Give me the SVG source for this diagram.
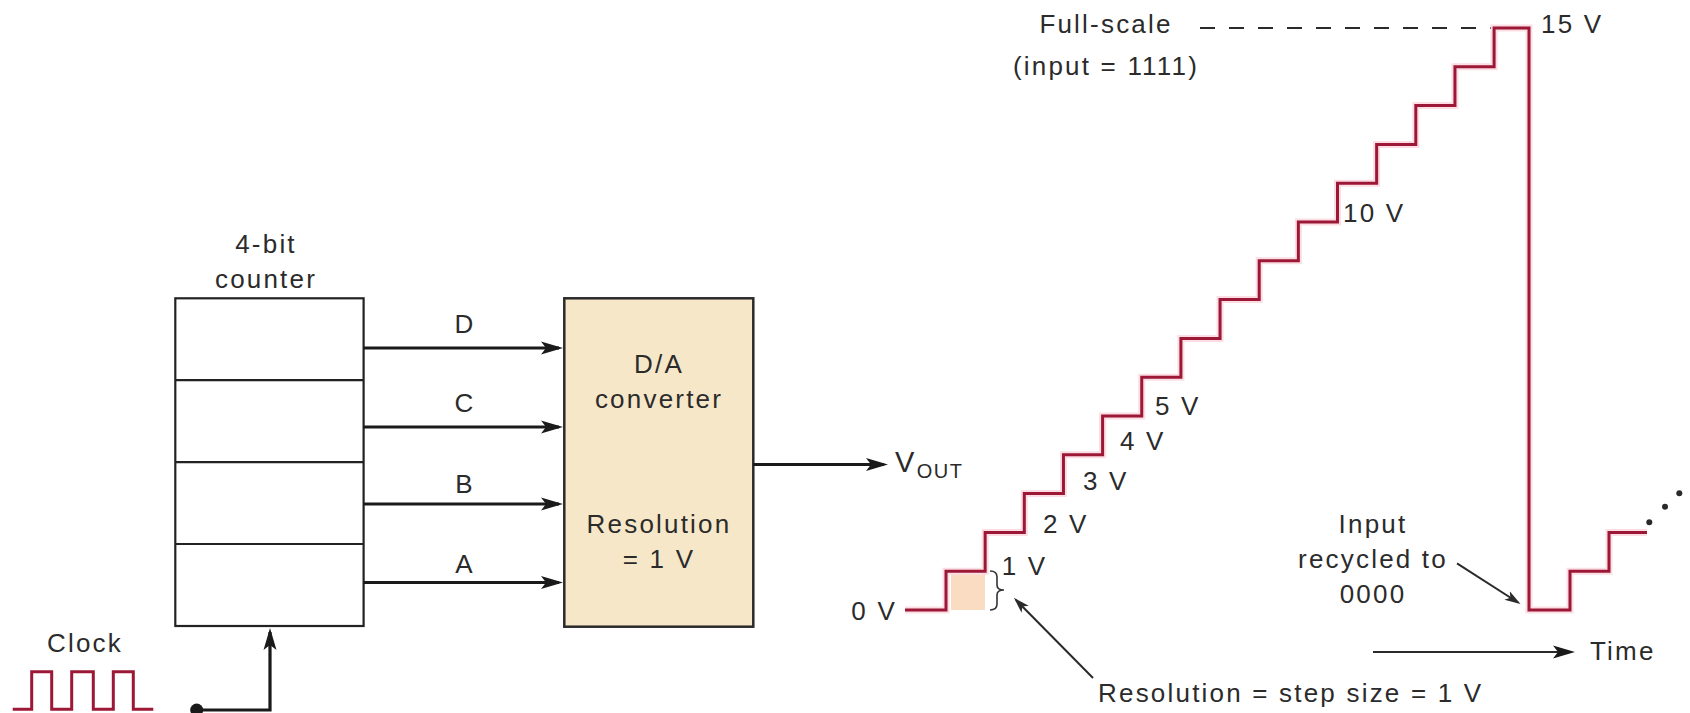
<svg xmlns="http://www.w3.org/2000/svg" width="1690" height="713" viewBox="0 0 1690 713">
  <style>
    text { font-family: "Liberation Sans", Arial, sans-serif; font-size: 26px; fill: #2b2b2b; letter-spacing: 2.2px; }
    .mid { text-anchor: middle; }
    .end { text-anchor: end; }
    .box { fill: #ffffff; stroke: #222; stroke-width: 2.2; }
    .dac { fill: #f6e7c9; stroke: #2a2a2a; stroke-width: 2.5; }
    .wire { fill: none; stroke: #1a1a1a; stroke-width: 3.2; }
    .thin { fill: none; stroke: #2a2a2a; stroke-width: 2; }
    .halo { fill: none; stroke: #fbdde3; stroke-width: 7; stroke-linejoin: miter; }
    .wave { fill: none; stroke: #9c1836; stroke-width: 3; stroke-linejoin: miter; }
  </style>
  <defs>
    <marker id="ah" markerUnits="userSpaceOnUse" markerWidth="24" markerHeight="14" refX="18" refY="7" orient="auto">
      <path d="M0,0.5 L22,7 L0,13.5 L5,7 Z" fill="#1a1a1a"/>
    </marker>
    <marker id="ahs" markerUnits="userSpaceOnUse" markerWidth="18" markerHeight="12" refX="13" refY="6" orient="auto">
      <path d="M0,1 L16,6 L0,11 L4,6 Z" fill="#2a2a2a"/>
    </marker>
  </defs>

  <!-- Counter -->
  <g id="counter">
    <text class="mid" x="266" y="253">4-bit</text>
    <text class="mid" x="266" y="288">counter</text>
    <rect class="box" x="175.3" y="298.3" width="188.3" height="327.7"/>
    <line class="box" x1="175.3" y1="380.2" x2="363.6" y2="380.2"/>
    <line class="box" x1="175.3" y1="462.1" x2="363.6" y2="462.1"/>
    <line class="box" x1="175.3" y1="544" x2="363.6" y2="544"/>
  </g>

  <!-- D/A converter -->
  <g id="dac">
    <rect class="dac" x="564.3" y="298.3" width="189" height="328.4"/>
    <text class="mid" x="659" y="373">D/A</text>
    <text class="mid" x="659" y="408">converter</text>
    <text class="mid" x="659" y="533">Resolution</text>
    <text class="mid" x="659" y="568">= 1 V</text>
  </g>

  <!-- Clock -->
  <g id="clock">
    <text class="mid" x="85" y="652">Clock</text>
    <path class="wave" d="M12.7,709.3 H31.7 V671.7 H51.7 V709.3 H71.7 V671.7 H93.3 V709.3 H113.3 V671.7 H133.3 V709.3 H153.3"/>
  </g>

  <!-- Vout label -->
  <g id="vout">
    <text x="895" y="471.7" style="font-size:29px">V</text>
    <text x="916.7" y="478.3" style="font-size:20px;letter-spacing:1.5px">OUT</text>
  </g>

  <!-- Connectors -->
  <g id="connectors">
    <line class="wire" x1="363.6" y1="348" x2="559" y2="348" marker-end="url(#ah)"/>
    <line class="wire" x1="363.6" y1="427" x2="559" y2="427" marker-end="url(#ah)"/>
    <line class="wire" x1="363.6" y1="504" x2="559" y2="504" marker-end="url(#ah)"/>
    <line class="wire" x1="363.6" y1="582.5" x2="559" y2="582.5" marker-end="url(#ah)"/>
    <line class="wire" x1="753.3" y1="464.5" x2="884" y2="464.5" marker-end="url(#ah)"/>
    <circle cx="196.7" cy="710" r="6.5" fill="#1a1a1a"/>
    <path class="wire" d="M196.7,710 H270 V632" marker-end="url(#ah)"/>
  </g>

  <!-- Bit labels -->
  <g id="bit-labels">
    <text class="mid" x="465" y="333">D</text>
    <text class="mid" x="465" y="411.7">C</text>
    <text class="mid" x="465" y="492.7">B</text>
    <text class="mid" x="465" y="572.7">A</text>
  </g>

  <!-- Staircase output waveform -->
  <g id="waveform">
    <rect x="951" y="571.2" width="34" height="38.8" fill="#f9dcc2"/>
    <line x1="1200" y1="28" x2="1494" y2="28" stroke="#2a2a2a" stroke-width="2" stroke-dasharray="15 14"/>
    <path class="halo" d="M905,610 H946 V571.2 H985.15 V532.4 H1024.3 V493.6 H1063.45 V454.8 H1102.6 V416 H1141.75 V377.2 H1180.9 V338.4 H1220.05 V299.6 H1259.2 V260.8 H1298.35 V222 H1337.5 V183.2 H1376.65 V144.4 H1415.8 V105.6 H1454.95 V66.8 H1494.1 V28 H1529 V610 H1570 V571.2 H1609 V532.4 H1647"/>
    <path class="wave" d="M905,610 H946 V571.2 H985.15 V532.4 H1024.3 V493.6 H1063.45 V454.8 H1102.6 V416 H1141.75 V377.2 H1180.9 V338.4 H1220.05 V299.6 H1259.2 V260.8 H1298.35 V222 H1337.5 V183.2 H1376.65 V144.4 H1415.8 V105.6 H1454.95 V66.8 H1494.1 V28 H1529 V610 H1570 V571.2 H1609 V532.4 H1647"/>
    <circle cx="1649.3" cy="522.3" r="3" fill="#2a2a2a"/>
    <circle cx="1665" cy="506.7" r="3" fill="#2a2a2a"/>
    <circle cx="1679.3" cy="493.3" r="3" fill="#2a2a2a"/>
    <path d="M990,571 Q997,571 997,577 L997,585 Q997,590 1004,590 Q997,590 997,595 L997,604 Q997,610 990,610" fill="none" stroke="#333" stroke-width="1.6"/>

    <text class="end" x="897" y="620">0 V</text>
    <text x="1001.7" y="575">1 V</text>
    <text x="1043" y="533">2 V</text>
    <text x="1083" y="490">3 V</text>
    <text x="1120" y="450">4 V</text>
    <text x="1155" y="415">5 V</text>
    <text x="1343" y="222">10 V</text>
    <text x="1541" y="33">15 V</text>
    <text class="mid" x="1106" y="33">Full-scale</text>
    <text class="mid" x="1106" y="75">(input = 1111)</text>
    <text class="mid" x="1373" y="533">Input</text>
    <text class="mid" x="1373" y="568">recycled to</text>
    <text class="mid" x="1373" y="603">0000</text>
    <text x="1590" y="660">Time</text>
    <text x="1098" y="702">Resolution = step size = 1 V</text>

    <line class="thin" x1="1093" y1="678" x2="1016" y2="600" marker-end="url(#ahs)"/>
    <line class="thin" x1="1457" y1="563.3" x2="1518" y2="602.5" marker-end="url(#ahs)"/>
    <line class="thin" x1="1373" y1="652" x2="1571" y2="652" marker-end="url(#ah)"/>
  </g>
</svg>
